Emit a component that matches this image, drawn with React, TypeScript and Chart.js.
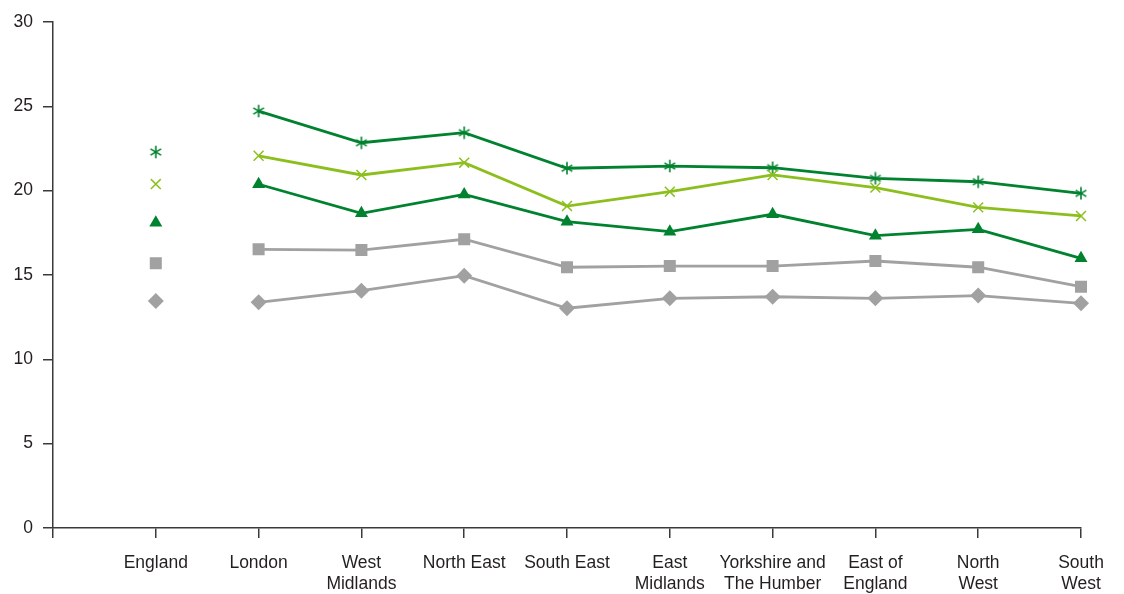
import React, { useEffect, useRef } from 'react';
import { Chart, registerables } from 'chart.js';
Chart.register(...registerables);

const categories: (string | string[])[] = [
  '',
  'England',
  'London',
  ['West', 'Midlands'],
  'North East',
  'South East',
  ['East', 'Midlands'],
  ['Yorkshire and', 'The Humber'],
  ['East of', 'England'],
  ['North', 'West'],
  ['South', 'West'],
];

const seriesAsterisk = [null, 22.29, 24.72, 22.84, 23.44, 21.33, 21.46, 21.36, 20.73, 20.53, 19.84];
const seriesCross = [null, 20.39, 22.07, 20.93, 21.66, 19.09, 19.94, 20.93, 20.18, 19.01, 18.5];
const seriesTriangle = [null, 18.1, 20.38, 18.66, 19.78, 18.16, 17.57, 18.6, 17.33, 17.71, 15.99];
const seriesSquare = [null, 15.69, 16.52, 16.48, 17.12, 15.46, 15.53, 15.53, 15.83, 15.46, 14.31];
const seriesDiamond = [null, 13.46, 13.38, 14.07, 14.96, 13.03, 13.62, 13.71, 13.62, 13.78, 13.32];

const yMin = 0;
const yMax = 30;
const yStep = 5;

const DARK_GREEN = '#00822f';
const LIGHT_GREEN = '#8cbf1e';
const GREY = '#a0a1a0';
const TEXT = '#231f20';
const AXIS = '#3a3a3a';
const FONT = '"Liberation Sans", Arial, sans-serif';

function makeAsterisk(color: string): HTMLCanvasElement {
  const size = 14;
  const c = document.createElement('canvas');
  c.width = size;
  c.height = size;
  const ctx = c.getContext('2d')!;
  ctx.strokeStyle = color;
  ctx.lineWidth = 1.6;
  const cx = size / 2;
  const cy = size / 2;
  const r = 6.2;
  for (let i = 0; i < 3; i++) {
    const a = (Math.PI / 3) * i + Math.PI / 2;
    ctx.beginPath();
    ctx.moveTo(cx + Math.cos(a) * r, cy + Math.sin(a) * r);
    ctx.lineTo(cx - Math.cos(a) * r, cy - Math.sin(a) * r);
    ctx.stroke();
  }
  return c;
}

const hideEnglandLink = (ctx: any) => (ctx.p0DataIndex === 1 ? 'rgba(0,0,0,0)' : undefined);

export default function App() {
  const ref = useRef<HTMLCanvasElement | null>(null);

  useEffect(() => {
    document.body.style.margin = '0';
    const canvas = ref.current;
    if (!canvas) return;
    const asterisk = makeAsterisk(DARK_GREEN);
    const base = {
      borderWidth: 2.8,
      spanGaps: false,
      tension: 0,
      segment: { borderColor: hideEnglandLink },
    };
    const chart = new Chart(canvas, {
      type: 'line',
      data: {
        labels: categories as any,
        datasets: [
          {
            ...base,
            label: 'Diamond',
            data: seriesDiamond,
            borderColor: GREY,
            backgroundColor: GREY,
            pointStyle: 'rectRot',
            pointRadius: 8,
            pointBorderWidth: 0,
            pointBackgroundColor: GREY,
          },
          {
            ...base,
            label: 'Square',
            data: seriesSquare,
            borderColor: GREY,
            backgroundColor: GREY,
            pointStyle: 'rect',
            pointRadius: 8.5,
            pointBorderWidth: 0,
            pointBackgroundColor: GREY,
          },
          {
            ...base,
            label: 'Triangle',
            data: seriesTriangle,
            borderColor: DARK_GREEN,
            backgroundColor: DARK_GREEN,
            pointStyle: 'triangle',
            pointRadius: 7.5,
            pointBorderWidth: 0,
            pointBackgroundColor: DARK_GREEN,
          },
          {
            ...base,
            label: 'Cross',
            data: seriesCross,
            borderColor: LIGHT_GREEN,
            backgroundColor: LIGHT_GREEN,
            pointStyle: 'crossRot',
            pointRadius: 7,
            pointBorderWidth: 1.5,
            pointBorderColor: LIGHT_GREEN,
          },
          {
            ...base,
            label: 'Asterisk',
            data: seriesAsterisk,
            borderColor: DARK_GREEN,
            backgroundColor: DARK_GREEN,
            pointStyle: asterisk as any,
            pointRadius: 7,
          },
        ],
      },
      options: {
        animation: false,
        responsive: true,
        maintainAspectRatio: false,
        layout: { padding: { top: 22, right: 43, left: 0, bottom: 0 } },
        plugins: {
          legend: { display: false },
          tooltip: { enabled: false },
        },
        scales: {
          x: {
            type: 'category',
            offset: false,
            grid: {
              drawOnChartArea: false,
              drawTicks: true,
              tickLength: 10,
              color: AXIS,
              lineWidth: 1.5,
            },
            border: { color: AXIS, width: 1.5 },
            ticks: {
              autoSkip: false,
              maxRotation: 0,
              minRotation: 0,
              padding: 15,
              color: TEXT,
              font: { family: FONT, size: 17.5, lineHeight: 1.17 },
            },
            afterFit: (s: any) => {
              s.height = 66;
            },
          },
          y: {
            min: yMin,
            max: yMax,
            grid: {
              drawOnChartArea: false,
              drawTicks: true,
              tickLength: 10,
              color: AXIS,
              lineWidth: 1.5,
            },
            border: { color: AXIS, width: 1.5 },
            ticks: {
              stepSize: yStep,
              padding: 10,
              color: TEXT,
              font: { family: FONT, size: 17.5 },
            },
            afterFit: (s: any) => {
              s.width = 53;
            },
          },
        },
      },
    });
    return () => chart.destroy();
  }, []);

  return (
    <div style={{ position: 'absolute', left: 0, top: 0, width: 1124, height: 594, background: '#fff' }}>
      <canvas ref={ref} />
    </div>
  );
}
